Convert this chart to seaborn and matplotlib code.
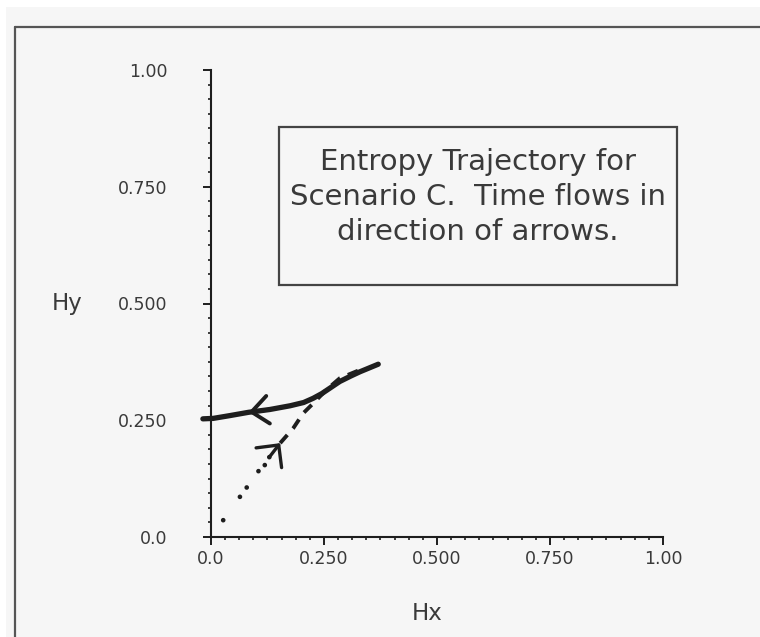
import numpy as np
import pandas as pd
import matplotlib
matplotlib.use("Agg")
import matplotlib.pyplot as plt
from matplotlib.patches import Rectangle
from matplotlib.lines import Line2D
import seaborn as sns

# Trajectory values (Hx, Hy).
solid_hx = [-0.018, 0.005, 0.042, 0.083, 0.13, 0.175, 0.205, 0.226, 0.245, 0.265, 0.285, 0.31, 0.33, 0.37]
solid_hy = [0.253, 0.254, 0.260, 0.267, 0.273, 0.281, 0.288, 0.297, 0.307, 0.320, 0.333, 0.345, 0.354, 0.370]

dotted_hx = [0.027, 0.064, 0.079, 0.105, 0.119, 0.129]
dotted_hy = [0.036, 0.086, 0.106, 0.141, 0.154, 0.171]

dashed_hx = [0.153, 0.182, 0.204, 0.226, 0.255, 0.285, 0.31, 0.335]
dashed_hy = [0.201, 0.233, 0.265, 0.286, 0.315, 0.340, 0.350, 0.360]

tick_values = [0.0, 0.25, 0.5, 0.75, 1.0]
tick_labels = ["0.0", "0.250", "0.500", "0.750", "1.00"]

note = "Entropy Trajectory for\nScenario C.  Time flows in\ndirection of arrows."

sns.set_style("ticks")
plt.rcParams["font.family"] = ["DejaVu Sans"]

ink = "#1e1e1e"
text_ink = "#3a3a3a"

fig = plt.figure(figsize=(7.6, 6.37), dpi=100, facecolor="white")

# scanned page background and frame
fig.patches.append(Rectangle((6 / 760, 0), 1, 1 - 7 / 637, transform=fig.transFigure,
                             facecolor="#f6f6f6", edgecolor="none", zorder=-10))
fig.lines.append(Line2D([15 / 760, 15 / 760], [0, 1 - 27 / 637], transform=fig.transFigure,
                        color="#555555", lw=1.6))
fig.lines.append(Line2D([15 / 760, 1], [1 - 27 / 637, 1 - 27 / 637], transform=fig.transFigure,
                        color="#555555", lw=1.6))

ax = fig.add_axes([211 / 760, 1 - 537 / 637, 452 / 760, 467 / 637])
ax.set_facecolor("none")

solid = pd.DataFrame({"Hx": solid_hx, "Hy": solid_hy})
dotted = pd.DataFrame({"Hx": dotted_hx, "Hy": dotted_hy})
dashed = pd.DataFrame({"Hx": dashed_hx, "Hy": dashed_hy})

sns.lineplot(data=solid, x="Hx", y="Hy", sort=False, color=ink, lw=3.8, ax=ax,
             solid_capstyle="round", solid_joinstyle="round", clip_on=False)
sns.lineplot(data=dashed, x="Hx", y="Hy", sort=False, color=ink, lw=2.8, ax=ax,
             dashes=False, linestyle=(0, (2.8, 2.2)), clip_on=False)
sns.scatterplot(data=dotted, x="Hx", y="Hy", color=ink, s=11, edgecolor="none", ax=ax)

# arrow heads showing the direction of time
ax.annotate("", xy=(solid_hx[3], solid_hy[3]), xytext=(solid_hx[4], solid_hy[4]),
            arrowprops=dict(arrowstyle="->,head_length=0.6,head_width=0.5",
                            lw=2.8, color=ink, shrinkA=0, shrinkB=0, mutation_scale=20))
ax.annotate("", xy=(dashed_hx[0], dashed_hy[0]), xytext=(dotted_hx[-1], dotted_hy[-1]),
            arrowprops=dict(arrowstyle="->,head_length=0.58,head_width=0.58",
                            lw=2.4, color=ink, shrinkA=0, shrinkB=0, mutation_scale=20))

ax.set_xlim(0, 1)
ax.set_ylim(0, 1)
ax.set_xticks(tick_values)
ax.set_xticklabels(tick_labels)
ax.set_yticks(tick_values)
ax.set_yticklabels(tick_labels)
ax.set_xticks(np.arange(0, 1.0001, 0.03125), minor=True)
ax.set_yticks(np.arange(0, 1.0001, 0.03125), minor=True)

for side in ["top", "right"]:
    ax.spines[side].set_visible(False)
for side in ["left", "bottom"]:
    ax.spines[side].set_color(ink)
    ax.spines[side].set_linewidth(1.5)

ax.tick_params(axis="both", which="major", length=5.5, width=1.4, color=ink,
               labelsize=12.5, labelcolor=text_ink)
ax.tick_params(axis="both", which="minor", length=2.2, width=1.2, color=ink)
ax.tick_params(axis="x", which="major", pad=3.5)
ax.tick_params(axis="y", which="major", pad=26)

ax.set_xlabel("Hx", fontsize=16.5, color=text_ink, va="baseline")
ax.xaxis.set_label_coords(0.478, -0.178)
ax.set_ylabel("Hy", fontsize=16.5, color=text_ink, rotation=0, ha="center", va="baseline")
ax.yaxis.set_label_coords(-0.319, 0.486)

# caption box inside the plot
ax.add_patch(Rectangle((0.150, 0.540), 0.881, 0.338, transform=ax.transAxes,
                       facecolor="none", edgecolor="#444444", lw=1.6, clip_on=False))
ax.text(0.591, 0.728, note, transform=ax.transAxes, ha="center", va="center",
        fontsize=21, color=text_ink, linespacing=1.3, multialignment="center")

fig.savefig("out.png", dpi=100, facecolor=fig.get_facecolor())
